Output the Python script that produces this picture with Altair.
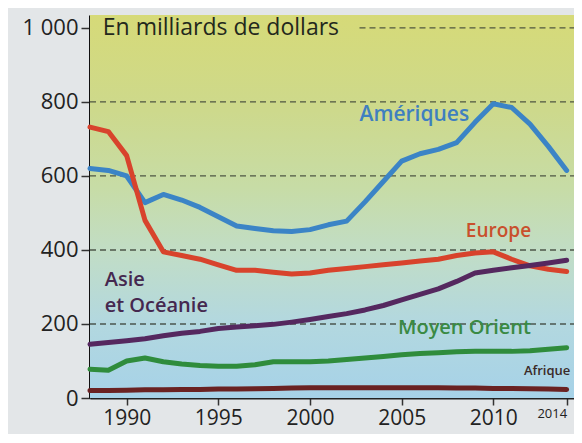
import altair as alt
import pandas as pd

years = list(range(1988, 2015))
ameriques = [620, 615, 600, 528, 550, 535, 515, 490, 465, 458, 452, 450, 455, 468, 478, 530,
             585, 640, 660, 672, 690, 745, 795, 785, 740, 680, 615]
europe = [732, 720, 655, 480, 395, 385, 375, 360, 345, 345, 340, 335, 338, 345, 350, 355,
          360, 365, 370, 375, 385, 392, 395, 375, 357, 348, 342]
asie = [145, 150, 155, 160, 168, 175, 180, 188, 192, 195, 199, 205, 212, 220, 228, 238,
        250, 265, 280, 295, 315, 338, 345, 352, 358, 365, 372]
moyen_orient = [78, 75, 100, 108, 98, 92, 88, 86, 86, 90, 98, 98, 98, 100, 104, 108,
                112, 117, 120, 122, 125, 126, 126, 126, 128, 132, 136]
afrique = [20, 20, 21, 22, 22, 23, 23, 24, 24, 25, 26, 27, 28, 28, 28, 28,
           28, 28, 28, 28, 27, 27, 26, 26, 25, 24, 23]

series_names = ["Amériques", "Europe", "Asie et Océanie", "Moyen Orient", "Afrique"]
series_values = [ameriques, europe, asie, moyen_orient, afrique]
series_colors = ["#3b84c6", "#d8432c", "#55285f", "#2f8c3c", "#6a2222"]

y_ticks = [0, 200, 400, 600, 800, 1000]
x_ticks = [1990, 1995, 2000, 2005, 2010, 2014]
grid_values = [200, 400, 600, 800, 1000]
grid_starts = [1988, 1988, 1988, 1988, 2002.7]

X_MIN, X_MAX = 1988, 2014.4
Y_MIN, Y_MAX = 0, 1035

rows = []
for name, vals in zip(series_names, series_values):
    for yr, v in zip(years, vals):
        rows.append({"annee": yr, "valeur": v, "zone": name})
df = pd.DataFrame(rows)

xs = alt.Scale(domain=[X_MIN, X_MAX], nice=False, zero=False)
ys = alt.Scale(domain=[Y_MIN, Y_MAX], nice=False)

x_axis = alt.Axis(values=x_ticks, title=None, format="d", grid=False,
                  labelFontSize=alt.expr("datum.value == 2014 ? 13 : 21"),
                  labelAlign=alt.expr("datum.value == 2014 ? 'right' : 'center'"),
                  labelFont="Open Sans", labelColor="#222222", labelPadding=2,
                  labelFontWeight=500,
                  tickSize=7, tickColor="#333333", tickWidth=1.5,
                  domainColor="#222222", domainWidth=2, labelFlush=False)
y_axis = alt.Axis(values=y_ticks, title=None, grid=False,
                  labelExpr="datum.value == 1000 ? '1 000' : datum.label",
                  labelFontSize=22, labelFont="Open Sans", labelColor="#222222",
                  labelFontWeight=500,
                  tickSize=9, tickColor="#333333", tickWidth=1.5,
                  domainColor="#111111", domainWidth=3, labelPadding=3)

bg_df = pd.DataFrame({"x": [X_MIN], "x2": [X_MAX], "y": [Y_MIN], "y2": [Y_MAX]})
background = alt.Chart(bg_df).mark_rect(
    color=alt.LinearGradient(
        gradient="linear", x1=0, y1=0, x2=0, y2=1,
        stops=[
            alt.GradientStop(offset=0.0, color="#d6da78"),
            alt.GradientStop(offset=0.25, color="#cdd98c"),
            alt.GradientStop(offset=0.45, color="#c7dca6"),
            alt.GradientStop(offset=0.62, color="#c1ddc6"),
            alt.GradientStop(offset=0.8, color="#b3d8df"),
            alt.GradientStop(offset=1.0, color="#a6d2e8"),
        ],
    )
).encode(
    x=alt.X("x:Q", scale=xs, axis=x_axis),
    x2="x2:Q",
    y=alt.Y("y:Q", scale=ys, axis=y_axis),
    y2="y2:Q",
)

grid_df = pd.DataFrame({"v": grid_values, "start": grid_starts, "end": [X_MAX] * len(grid_values)})
grid = alt.Chart(grid_df).mark_rule(
    color="#3a3f35", strokeDash=[6, 4], strokeWidth=1.3, opacity=0.85
).encode(
    x=alt.X("start:Q", scale=xs, axis=x_axis),
    x2="end:Q",
    y=alt.Y("v:Q", scale=ys, axis=y_axis),
)

lines = alt.Chart(df).mark_line(strokeWidth=5, strokeJoin="round", strokeCap="round").encode(
    x=alt.X("annee:Q", scale=xs, axis=x_axis),
    y=alt.Y("valeur:Q", scale=ys, axis=y_axis),
    color=alt.Color("zone:N", scale=alt.Scale(domain=series_names, range=series_colors), legend=None),
    detail="zone:N",
)

ann_text = ["En milliards de dollars", "Amériques", "Europe", "Asie", "et Océanie",
            "Moyen Orient", "Afrique"]
ann_x = [1988.7, 2002.7, 2008.5, 1988.8, 1988.8, 2004.8, 2014.2]
ann_y = [1000, 765, 450, 318, 248, 190, 72]
ann_color = ["#23281c", "#3f7fc0", "#c9502c", "#45284f", "#45284f", "#3a8a44", "#3a2a28"]
ann_size = [23, 21, 19, 20, 20, 20, 13]
ann_align = ["left", "left", "left", "left", "left", "left", "right"]
ann_df = pd.DataFrame({"t": ann_text, "x": ann_x, "y": ann_y})

texts = []
for i in range(len(ann_df)):
    sub = ann_df.iloc[[i]]
    weight = "normal" if i == 0 else 600
    texts.append(
        alt.Chart(sub).mark_text(
            align=ann_align[i], baseline="middle", font="Open Sans",
            fontSize=ann_size[i], fontWeight=weight, color=ann_color[i],
        ).encode(
            x=alt.X("x:Q", scale=xs, axis=x_axis),
            y=alt.Y("y:Q", scale=ys, axis=y_axis),
            text="t:N",
        )
    )

chart = alt.layer(background, grid, lines, *texts).properties(
    width=484, height=383,
    background="#e3e6e8",
    padding={"left": 82, "top": 7, "right": 0, "bottom": 36},
    autosize=alt.AutoSizeParams(type="none"),
).configure_view(stroke=None)

chart.save("out.html", embed_options={"renderer": "svg", "actions": False})
